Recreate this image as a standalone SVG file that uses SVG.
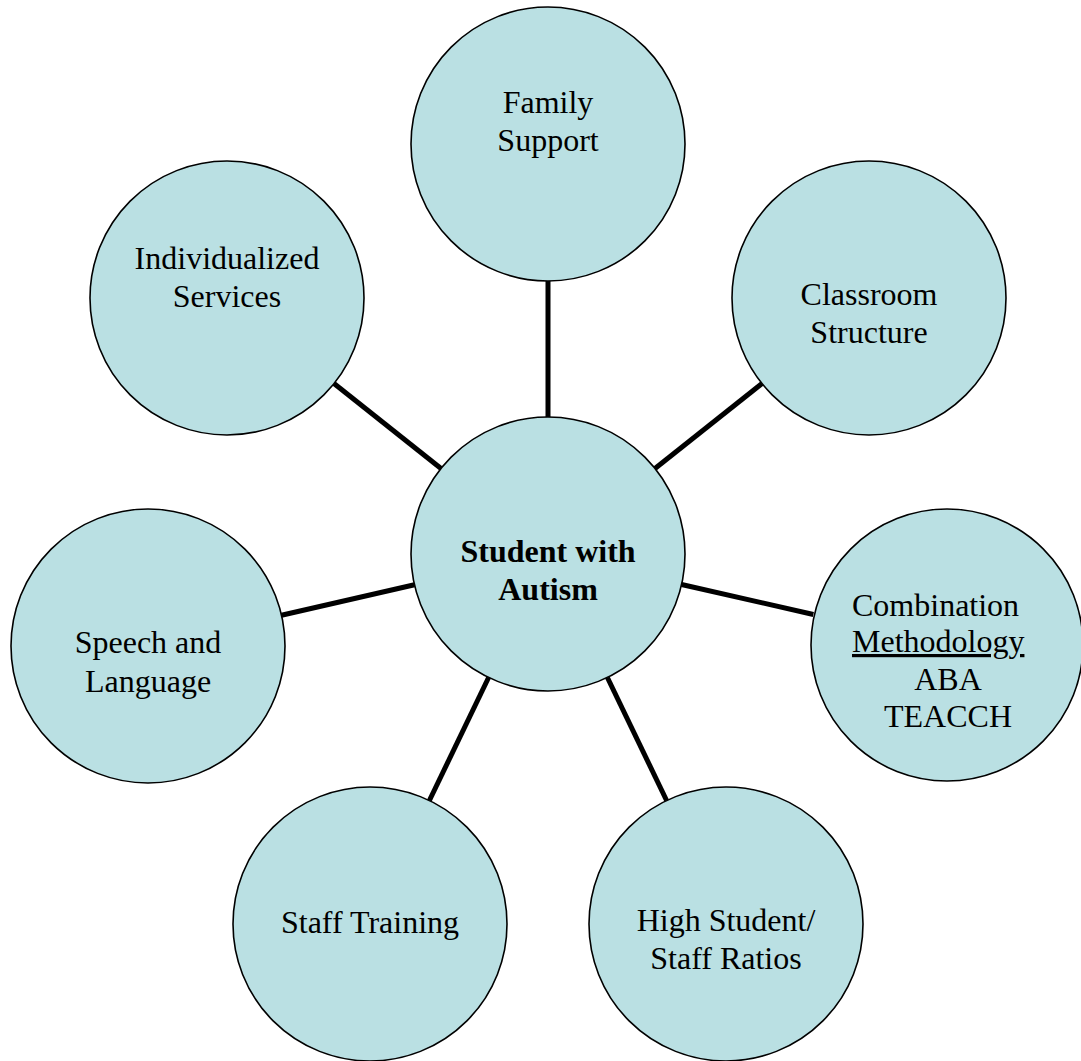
<svg xmlns="http://www.w3.org/2000/svg" width="1081" height="1061" viewBox="0 0 1081 1061">
<style>
.n{fill:#BAE0E3;stroke:#000;stroke-width:1.6}
.t{font-family:"Liberation Serif","Times New Roman",serif;font-size:32px;fill:#000;text-anchor:middle}
.b{font-weight:bold}
.c line{stroke:#000;stroke-width:5}
</style>
<rect width="1081" height="1061" fill="#fff"/>
<g id="connectors" class="c">
<line x1="548" y1="417" x2="548" y2="281"/>
<line x1="441" y1="468.5" x2="334" y2="383.5"/>
<line x1="655" y1="468.5" x2="762" y2="383.5"/>
<line x1="414.5" y1="584.7" x2="281.5" y2="615.3"/>
<line x1="681.6" y1="584.5" x2="813.4" y2="614.5"/>
<line x1="488.6" y1="677.5" x2="429.4" y2="800.5"/>
<line x1="607.4" y1="677.5" x2="666.6" y2="800.5"/>
</g>
<g id="center">
<circle class="n" cx="548" cy="554" r="137"/>
<text class="t b" x="548" y="562">Student with</text>
<text class="t b" x="548" y="600">Autism</text>
</g>
<g id="family">
<circle class="n" cx="548" cy="144" r="137"/>
<text class="t" x="548" y="113">Family</text>
<text class="t" x="548" y="151">Support</text>
</g>
<g id="individualized">
<circle class="n" cx="227" cy="298" r="137"/>
<text class="t" x="227" y="269">Individualized</text>
<text class="t" x="227" y="307">Services</text>
</g>
<g id="classroom">
<circle class="n" cx="869" cy="298" r="137"/>
<text class="t" x="869" y="305">Classroom</text>
<text class="t" x="869" y="343">Structure</text>
</g>
<g id="speech">
<circle class="n" cx="148" cy="646" r="137"/>
<text class="t" x="148" y="653">Speech and</text>
<text class="t" x="148" y="692">Language</text>
</g>
<g id="combination">
<circle class="n" cx="947" cy="645" r="136"/>
<text class="t" x="852" y="616" style="text-anchor:start">Combination</text>
<text class="t" x="852" y="652" style="text-anchor:start;text-decoration:underline">Methodology</text>
<text class="t" x="948" y="690">ABA</text>
<text class="t" x="948" y="727">TEACCH</text>
</g>
<g id="staff-training">
<circle class="n" cx="370" cy="924" r="137"/>
<text class="t" x="370" y="933">Staff Training</text>
</g>
<g id="ratios">
<circle class="n" cx="726" cy="924" r="137"/>
<text class="t" x="726" y="931">High Student/</text>
<text class="t" x="726" y="969">Staff Ratios</text>
</g>
</svg>
